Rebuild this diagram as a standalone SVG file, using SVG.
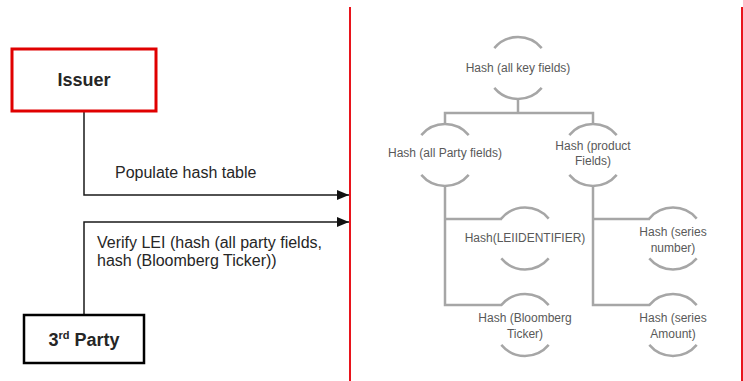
<svg xmlns="http://www.w3.org/2000/svg" width="743" height="381" viewBox="0 0 743 381">
<defs>
<style>
.lbl{font-family:"Liberation Sans",Arial,sans-serif;font-size:16px;fill:#262626}
.box{font-family:"Liberation Sans",Arial,sans-serif;font-size:18px;font-weight:bold;fill:#262626}
.t{font-family:"Liberation Sans",Arial,sans-serif;font-size:12px;fill:#595959;text-anchor:middle}
.arc{fill:none;stroke:#a6a6a6;stroke-width:2.5}
.tl{fill:none;stroke:#a6a6a6;stroke-width:2.5}
.conn{fill:none;stroke:#1a1a1a;stroke-width:1.5}
.red{stroke:#e8141c;stroke-width:2}
</style>
<marker id="ah" viewBox="0 0 12 10" refX="12" refY="5" markerWidth="12" markerHeight="10" markerUnits="userSpaceOnUse" orient="auto">
<path d="M0,0 L12,5 L0,10 z" fill="#111"/>
</marker>
</defs>
<rect width="743" height="381" fill="#fff"/>
<line class="red" x1="350" y1="7" x2="350" y2="381"/>
<line class="red" x1="742" y1="7" x2="742" y2="381"/>
<g id="connectors">
<polyline class="conn" points="84,111 84,195 349,195" marker-end="url(#ah)"/>
<polyline class="conn" points="84,315 84,222 349,222" marker-end="url(#ah)"/>
<text class="lbl" x="115" y="178">Populate hash table</text>
<text class="lbl" x="97" y="248">Verify LEI (hash (all party fields,</text>
<text class="lbl" x="97" y="266">hash (Bloomberg Ticker))</text>
</g>
<g id="issuer">
<rect x="12" y="49" width="144" height="62" fill="#fff" stroke="#e00000" stroke-width="3"/>
<text class="box" x="84" y="86" text-anchor="middle">Issuer</text>
</g>
<g id="third-party">
<rect x="24" y="315" width="120" height="48" fill="#fff" stroke="#000" stroke-width="2.5"/>
<text class="box" x="84" y="346" text-anchor="middle">3<tspan font-size="11" dy="-7">rd</tspan><tspan dy="7"> Party</tspan></text>
</g>
<g id="tree-lines">
<polyline class="tl" points="518,99 518,113"/>
<polyline class="tl" points="445,124 445,113 593,113 593,124"/>
<polyline class="tl" points="445,186 445,305 502,305"/>
<polyline class="tl" points="445,219 502,219"/>
<polyline class="tl" points="593,186 593,305 650,305"/>
<polyline class="tl" points="593,219 650,219"/>
</g>
<g id="n-all-key">
<path class="arc" d="M494.3,48.1 A31,31 0 0 1 541.7,48.1 M494.3,87.9 A31,31 0 0 0 541.7,87.9"/>
<text class="t" x="518" y="72">Hash (all key fields)</text>
</g>
<g id="n-party">
<path class="arc" d="M421.3,135.1 A31,31 0 0 1 468.7,135.1 M421.3,174.9 A31,31 0 0 0 468.7,174.9"/>
<text class="t" x="445" y="157">Hash (all Party fields)</text>
</g>
<g id="n-product">
<path class="arc" d="M569.3,135.1 A31,31 0 0 1 616.7,135.1 M569.3,174.9 A31,31 0 0 0 616.7,174.9"/>
<text class="t" x="593" y="150">Hash (product</text>
<text class="t" x="593" y="165">Fields)</text>
</g>
<g id="n-lei">
<path class="arc" d="M501.3,218.6 A31,31 0 0 1 548.7,218.6 M501.3,258.4 A31,31 0 0 0 548.7,258.4"/>
<text class="t" x="525" y="242">Hash(LEIIDENTIFIER)</text>
</g>
<g id="n-series-number">
<path class="arc" d="M649.3,218.6 A31,31 0 0 1 696.7,218.6 M649.3,258.4 A31,31 0 0 0 696.7,258.4"/>
<text class="t" x="673" y="236">Hash (series</text>
<text class="t" x="673" y="252">number)</text>
</g>
<g id="n-bloomberg">
<path class="arc" d="M501.3,305.1 A31,31 0 0 1 548.7,305.1 M501.3,344.9 A31,31 0 0 0 548.7,344.9"/>
<text class="t" x="525" y="322">Hash (Bloomberg</text>
<text class="t" x="525" y="338">Ticker)</text>
</g>
<g id="n-series-amount">
<path class="arc" d="M649.3,305.1 A31,31 0 0 1 696.7,305.1 M649.3,344.9 A31,31 0 0 0 696.7,344.9"/>
<text class="t" x="673" y="322">Hash (series</text>
<text class="t" x="673" y="338">Amount)</text>
</g>
</svg>
